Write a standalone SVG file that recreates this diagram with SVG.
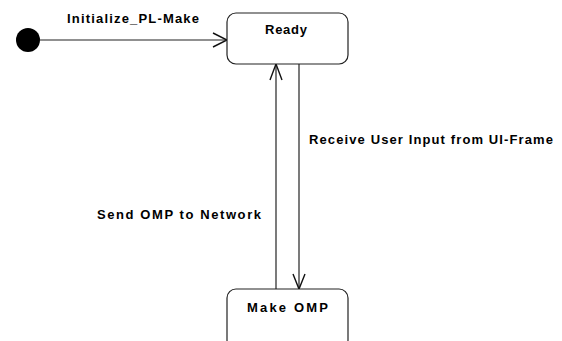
<svg xmlns="http://www.w3.org/2000/svg" width="562" height="341" viewBox="0 0 562 341">
<style>
.node{fill:#fff;stroke:#222;stroke-width:1.2}
.edge{fill:none;stroke:#222;stroke-width:1.2}
.head{fill:none;stroke:#111;stroke-width:1.4}
text{font-family:"Liberation Sans",Arial,sans-serif;font-weight:bold;font-size:13px;fill:#000}
</style>
<rect width="562" height="341" fill="#fff"/>
<g id="connectors">
<line class="edge" x1="40" y1="40" x2="227" y2="40"/>
<polyline class="head" points="213,33 227,40 213,47"/>
<line class="edge" x1="276" y1="289" x2="276" y2="64"/>
<polyline class="head" points="270,80 276,64 282,80"/>
<line class="edge" x1="299" y1="64" x2="299" y2="289"/>
<polyline class="head" points="293,274 299,289 305,274"/>
<text x="67" y="23" textLength="132" lengthAdjust="spacing">Initialize_PL-Make</text>
<text x="309" y="144" textLength="244" lengthAdjust="spacing">Receive User Input from UI-Frame</text>
<text x="97" y="219" textLength="164" lengthAdjust="spacing">Send OMP to Network</text>
</g>
<g id="initial">
<circle cx="28" cy="40" r="12" fill="#000"/>
</g>
<g id="ready">
<rect class="node" x="227" y="13" width="121" height="51" rx="9"/>
<text x="265" y="34" textLength="42" lengthAdjust="spacing">Ready</text>
</g>
<g id="makeomp">
<rect class="node" x="227" y="289" width="121" height="60" rx="9"/>
<text x="247" y="312" textLength="81" lengthAdjust="spacing">Make OMP</text>
</g>
</svg>
